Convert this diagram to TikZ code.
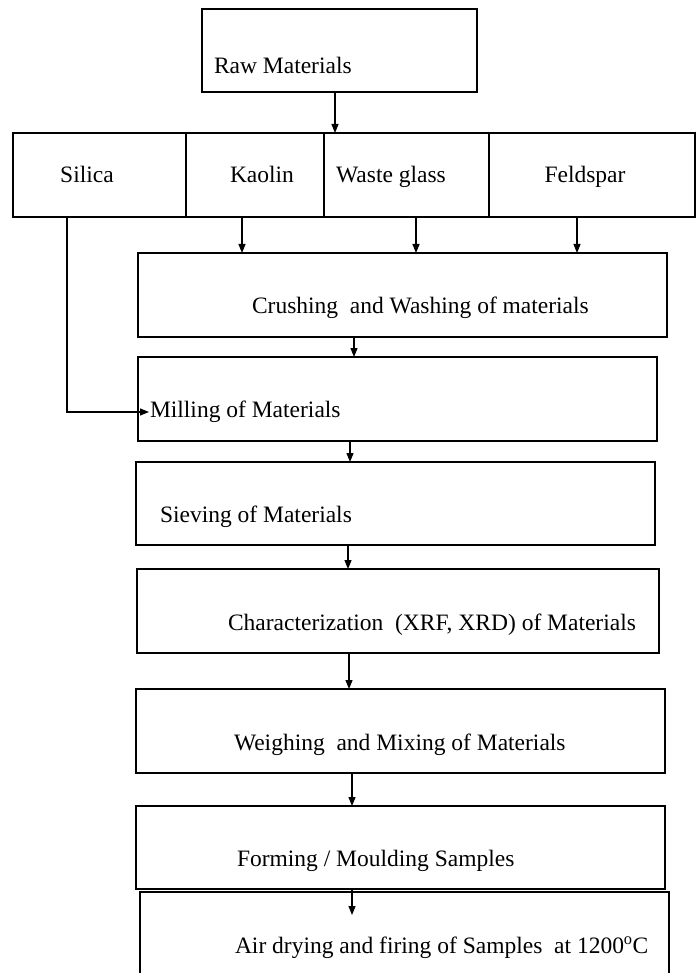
\documentclass[tikz,border=0pt]{standalone}
\usepackage{fontspec}
\setmainfont{Liberation Serif}
\usetikzlibrary{arrows.meta,calc}
\tikzset{
  box/.style={draw=black, line width=1.4pt, rectangle, inner sep=0pt, outer sep=0pt, fill=none},
  lbl/.style={inner sep=0pt, outer sep=0pt, font=\fontsize{23.5}{27}\selectfont, text=black},
  arr/.style={draw=black, line width=1.2pt, -{Triangle[length=9pt,width=7pt]}},
}
\newcommand{\bx}[6]{\node[box, minimum width=#4-#2, minimum height=#5-#3] (#1) at ({(#2+#4)/2},{(#3+#5)/2}) {#6};}
\begin{document}
\begin{tikzpicture}[x=1pt,y=-1pt]
\useasboundingbox (0,0) rectangle (696,973);
\fill[white] (0,0) rectangle (696,973);
\clip (0,0) rectangle (696,973);
% boxes
\bx{raw}{202}{9}{477}{92}{}
\bx{silica}{13}{133}{186}{217}{}
\bx{kaolin}{186}{133}{324}{217}{}
\bx{waste}{324}{133}{489}{217}{}
\bx{feld}{489}{133}{695}{217}{}
\bx{crush}{138}{253}{667}{337}{}
\bx{mill}{138}{357}{657}{441}{}
\bx{sieve}{136}{462}{655}{545}{}
\bx{charz}{137}{569}{659}{653}{}
\bx{weigh}{136}{689}{665}{773}{}
\bx{form}{136}{806}{665}{889}{}
\bx{air}{140}{892}{669}{990}{}
% texts
\node[lbl, anchor=west] (traw) at (214,65) {Raw Materials};
\node[lbl, anchor=base] (tsil) at (87,183) {Silica};
\node[lbl, anchor=base] (tkao) at (262,183) {Kaolin};
\node[lbl, anchor=base] (twas) at (391,183) {Waste glass};
\node[lbl, anchor=base] (tfel) at (585,183) {Feldspar};
\node[lbl, anchor=west] (tcru) at (252,308) {Crushing\ \ and Washing of materials};
\node[lbl, anchor=west] (tmil) at (150,412) {Milling of Materials};
\node[lbl, anchor=west] (tsie) at (160,517) {Sieving of Materials};
\node[lbl, anchor=west] (tcha) at (228,625) {Characterization\ \ (XRF, XRD) of Materials};
\node[lbl, anchor=west] (twei) at (234,745) {Weighing\ \ and Mixing of Materials};
\node[lbl, anchor=west] (tfor) at (237,861) {Forming / Moulding Samples};
\node[lbl, anchor=west] (tair) at (235,948) {Air drying and firing of Samples\ \ at 1200\textsuperscript{o}C};
% helper coordinates
\coordinate (x1) at (335,0);
\coordinate (x2) at (242,0);
\coordinate (x3) at (416,0);
\coordinate (x4) at (577,0);
\coordinate (xs) at (67,0);
\coordinate (millin) at (149,412);
\coordinate (x5) at (354,0);
\coordinate (x6) at (350,0);
\coordinate (x7) at (348,0);
\coordinate (x8) at (349,0);
\coordinate (x9) at (352,0);
\coordinate (airin) at (352,915);
% connectors
\draw[arr] (x1 |- raw.south) -- (x1 |- waste.north);
\draw[arr] (x2 |- kaolin.south) -- (x2 |- crush.north);
\draw[arr] (x3 |- waste.south) -- (x3 |- crush.north);
\draw[arr] (x4 |- feld.south) -- (x4 |- crush.north);
\draw[arr] (xs |- silica.south) |- (millin);
\draw[arr] (x5 |- crush.south) -- (x5 |- mill.north);
\draw[arr] (x6 |- mill.south) -- (x6 |- sieve.north);
\draw[arr] (x7 |- sieve.south) -- (x7 |- charz.north);
\draw[arr] (x8 |- charz.south) -- (x8 |- weigh.north);
\draw[arr] (x9 |- weigh.south) -- (x9 |- form.north);
\draw[arr] (x9 |- form.south) -- (airin);
\end{tikzpicture}
\end{document}
